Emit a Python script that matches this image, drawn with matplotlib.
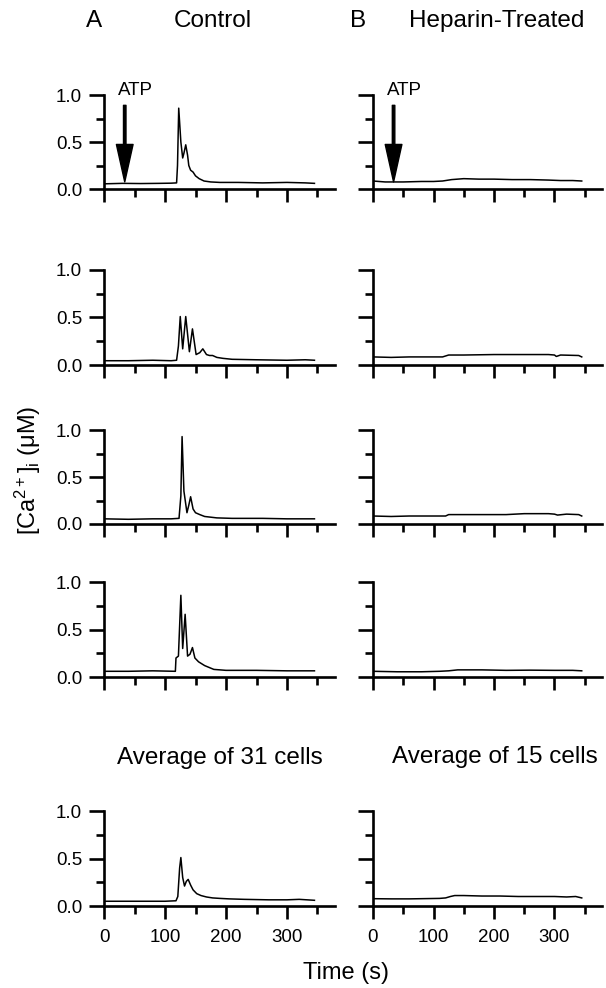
import matplotlib.pyplot as plt

plt.rcParams['font.family'] = ['Liberation Sans', 'DejaVu Sans']
plt.rcParams['mathtext.fontset'] = 'custom'
plt.rcParams['mathtext.rm'] = 'Liberation Sans'
plt.rcParams['mathtext.it'] = 'Liberation Sans:italic'

# ---- data (time in s, [Ca2+]i in uM) ----
ctrl1_t = [0, 30, 60, 90, 110, 119, 120.5, 122.5, 126, 129, 131, 134, 137, 139, 142, 146, 150, 156, 164, 175, 190, 220, 260, 300, 330, 345]
ctrl1_v = [0.055, 0.06, 0.058, 0.06, 0.062, 0.065, 0.25, 0.86, 0.5, 0.33, 0.38, 0.47, 0.36, 0.25, 0.2, 0.18, 0.14, 0.11, 0.085, 0.075, 0.07, 0.07, 0.065, 0.07, 0.065, 0.06]
hep1_t = [0, 20, 50, 80, 100, 115, 130, 150, 175, 200, 230, 260, 290, 310, 330, 345]
hep1_v = [0.085, 0.075, 0.075, 0.08, 0.08, 0.085, 0.1, 0.11, 0.105, 0.105, 0.1, 0.1, 0.095, 0.09, 0.09, 0.085]

ctrl2_t = [0, 40, 80, 110, 119, 122, 125, 129, 134, 140, 145, 151, 157, 162, 168, 173, 178, 185, 195, 210, 250, 300, 330, 345]
ctrl2_v = [0.045, 0.045, 0.05, 0.045, 0.05, 0.2, 0.51, 0.17, 0.51, 0.14, 0.38, 0.11, 0.13, 0.17, 0.11, 0.1, 0.1, 0.08, 0.07, 0.06, 0.055, 0.05, 0.055, 0.05]
hep2_t = [0, 30, 60, 90, 115, 125, 150, 200, 250, 290, 300, 303, 310, 340, 345]
hep2_v = [0.085, 0.08, 0.085, 0.085, 0.085, 0.105, 0.105, 0.11, 0.11, 0.11, 0.105, 0.09, 0.105, 0.1, 0.085]

ctrl3_t = [0, 40, 80, 110, 123, 126, 128, 131, 136, 139, 142, 146, 150, 157, 165, 185, 210, 260, 300, 345]
ctrl3_v = [0.055, 0.05, 0.055, 0.055, 0.06, 0.3, 0.93, 0.35, 0.12, 0.2, 0.29, 0.16, 0.12, 0.1, 0.08, 0.065, 0.06, 0.06, 0.055, 0.055]
hep3_t = [0, 30, 60, 100, 120, 125, 150, 200, 220, 250, 290, 300, 305, 320, 340, 345]
hep3_v = [0.085, 0.08, 0.085, 0.085, 0.085, 0.1, 0.1, 0.1, 0.1, 0.11, 0.11, 0.105, 0.095, 0.105, 0.1, 0.085]

ctrl4_t = [0, 40, 80, 117, 118, 122, 126, 129, 133, 137, 141, 145, 149, 155, 165, 180, 200, 250, 300, 345]
ctrl4_v = [0.06, 0.06, 0.065, 0.06, 0.2, 0.22, 0.86, 0.3, 0.66, 0.22, 0.24, 0.31, 0.2, 0.16, 0.12, 0.08, 0.07, 0.07, 0.065, 0.065]
hep4_t = [0, 40, 80, 110, 125, 140, 180, 220, 260, 300, 330, 345]
hep4_v = [0.06, 0.055, 0.055, 0.06, 0.065, 0.075, 0.075, 0.07, 0.072, 0.07, 0.07, 0.065]

avg31_t = [0, 50, 100, 118, 121, 124, 126, 129, 132, 135, 138, 142, 146, 152, 159, 168, 178, 190, 205, 230, 270, 300, 320, 345]
avg31_v = [0.05, 0.05, 0.05, 0.055, 0.1, 0.4, 0.51, 0.3, 0.21, 0.26, 0.28, 0.22, 0.17, 0.13, 0.11, 0.095, 0.085, 0.08, 0.075, 0.07, 0.065, 0.065, 0.07, 0.06]
avg15_t = [0, 30, 60, 90, 110, 120, 128, 135, 150, 180, 210, 240, 270, 300, 320, 335, 345]
avg15_v = [0.077, 0.075, 0.075, 0.078, 0.08, 0.085, 0.1, 0.11, 0.11, 0.105, 0.105, 0.1, 0.1, 0.1, 0.095, 0.1, 0.085]

traces = [[(ctrl1_t, ctrl1_v), (hep1_t, hep1_v)],
          [(ctrl2_t, ctrl2_v), (hep2_t, hep2_v)],
          [(ctrl3_t, ctrl3_v), (hep3_t, hep3_v)],
          [(ctrl4_t, ctrl4_v), (hep4_t, hep4_v)],
          [(avg31_t, avg31_v), (avg15_t, avg15_v)]]

W, H = 606.0, 988.0
XMAX = 378
rows = [(95, 189), (270, 365), (430, 524), (582, 677), (811, 906)]  # pixel top/bottom
cols = [(104, 0.61), (373, 0.605)]  # pixel left, px per second

fig = plt.figure(figsize=(6.06, 9.88), dpi=100)

for i, (top, bot) in enumerate(rows):
    for j, (x0, pxs) in enumerate(cols):
        ax = fig.add_axes([x0 / W, 1 - bot / H, pxs * XMAX / W, (bot - top) / H])
        t, v = traces[i][j]
        ax.plot(t, v, color='k', lw=1.1)
        ax.set_xlim(0, XMAX)
        ax.set_ylim(0, 1)
        for s in ['top', 'right']:
            ax.spines[s].set_visible(False)
        for s in ['left', 'bottom']:
            ax.spines[s].set_linewidth(1.9)
        ax.set_xticks([0, 100, 200, 300])
        ax.set_xticks([50, 150, 250, 350], minor=True)
        ax.set_yticks([0, 0.5, 1.0])
        ax.set_yticks([0.25, 0.75], minor=True)
        ax.tick_params(axis='x', which='major', length=9.5, width=1.9, pad=7, labelsize=13.5)
        ax.tick_params(axis='x', which='minor', length=5.5, width=1.9)
        ax.tick_params(axis='y', which='major', length=10.8, width=1.9, pad=5, labelsize=13.5)
        ax.tick_params(axis='y', which='minor', length=5.8, width=1.9)
        if j == 0:
            ax.set_yticklabels(['0.0', '0.5', '1.0'])
        else:
            ax.set_yticklabels([])
        if i < 4:
            ax.set_xticklabels([])
        if i == 0:
            ax.annotate('', xy=(34, 0.075), xytext=(34, 0.89),
                        arrowprops=dict(facecolor='k', edgecolor='k', width=1.8,
                                        headwidth=12, headlength=27, shrink=0))
            ax.text(52, 1.05, 'ATP', ha='center', va='center', fontsize=13.5, clip_on=False)

def ftext(x, y, s, **kw):
    fig.text(x / W, 1 - y / H, s, ha='center', va='center', **kw)

ftext(94, 21, 'A', fontsize=17.5)
ftext(213, 21, 'Control', fontsize=17.5)
ftext(358, 21, 'B', fontsize=17.5)
ftext(497, 21, 'Heparin-Treated', fontsize=17.5)
ftext(220, 758, 'Average of 31 cells', fontsize=17.5)
ftext(495, 757, 'Average of 15 cells', fontsize=17.5)
ftext(346, 973, 'Time (s)', fontsize=17)
ftext(28, 470, r'[Ca$^{\mathregular{2+}}$]$_{\mathregular{i}}$ (μM)', fontsize=17, rotation=90)

fig.savefig('out.png', dpi=100)
